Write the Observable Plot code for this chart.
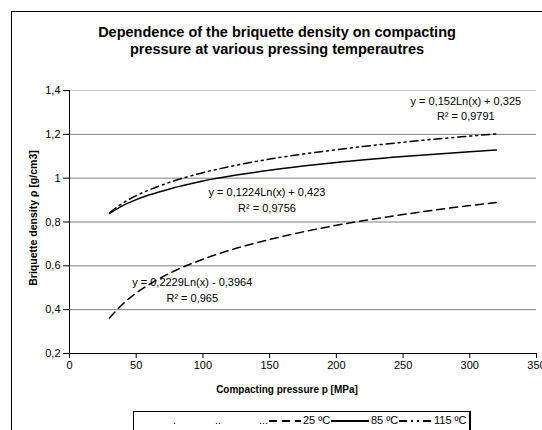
<!DOCTYPE html>
<html><head><meta charset="utf-8">
<script src="https://cdn.jsdelivr.net/npm/d3@7"></script>
<script src="https://cdn.jsdelivr.net/npm/@observablehq/plot@0.6"></script>
<style>
html,body{margin:0;padding:0;width:542px;height:430px;overflow:hidden;background:#fff;font-family:"Liberation Sans",Arial,sans-serif;color:#000}
#wrap{position:relative;width:542px;height:430px;overflow:hidden}
#frame{position:absolute;left:11px;top:11px;width:700px;height:700px;border:1px solid #000;box-sizing:border-box}
#chart{position:absolute;left:0;top:0}
.title{position:absolute;left:0;width:554px;text-align:center;font-weight:bold;font-size:14.5px;line-height:17px;top:24px}
.xlab{position:absolute;left:187px;width:200px;text-align:center;font-weight:bold;font-size:10px;top:384px}
.ylab{position:absolute;left:33px;top:218px;font-weight:bold;font-size:10.5px;white-space:nowrap;transform:translate(-50%,-50%) rotate(-90deg)}
#legend{position:absolute;left:133px;top:411px;width:338px;height:40px;border:1px solid #000;border-right-width:2px;box-sizing:border-box;font-size:11px}
#legend span,#legend svg{position:absolute}
</style></head>
<body><div id="wrap">
<div id="frame"></div>
<div id="chart"></div>
<div class="title">Dependence of the briquette density on compacting<br>pressure at various pressing temperautres</div>
<div class="xlab">Compacting pressure p [MPa]</div>
<div class="ylab">Briquette density ρ [g/cm3]</div>
<div id="legend"></div>
</div>
<script>
// pressures read along the x axis [MPa]
const pressures = [30, 40, 50, 60, 75, 100, 125, 150, 175, 200, 250, 300, 320];
// densities [g/cm3]
const dens25  = [0.362, 0.426, 0.476, 0.516, 0.566, 0.630, 0.680, 0.720, 0.755, 0.785, 0.834, 0.875, 0.889];
const dens85  = [0.839, 0.875, 0.902, 0.924, 0.951, 0.987, 1.014, 1.036, 1.055, 1.072, 1.099, 1.121, 1.129];
const dens115 = [0.842, 0.886, 0.920, 0.947, 0.981, 1.025, 1.059, 1.087, 1.110, 1.130, 1.164, 1.192, 1.202];
const seriesNames = ["25 ºC", "85 ºC", "115 ºC"];
const xTicks = [0, 50, 100, 150, 200, 250, 300, 350];
const yTicks = [0.2, 0.4, 0.6, 0.8, 1.0, 1.2, 1.4];
const eqTexts = ["y = 0,152Ln(x) + 0,325", "R² = 0,9791",
                 "y = 0,1224Ln(x) + 0,423", "R² = 0,9756",
                 "y = 0,2229Ln(x) - 0,3964", "R² = 0,965"];
const eqX = [297, 297, 148, 148, 92, 92];
const eqY = [1.350, 1.281, 0.934, 0.861, 0.523, 0.450];

const dashes = {"25 ºC": "8,5", "85 ºC": null, "115 ºC": "8,4,2,4,2,4"};
const allDens = [dens25, dens85, dens115];
const rows = seriesNames.flatMap((s, i) => pressures.map((p, j) => ({series: s, p, d: allDens[i][j]})));
const fmt = d => String(+d.toFixed(1)).replace(".", ",");
const ann = eqTexts.map((t, i) => ({t, x: eqX[i], y: eqY[i]}));

const lineMarks = seriesNames.map(s => Plot.line(rows.filter(r => r.series === s), {
  x: "p", y: "d", stroke: "black", strokeWidth: 1.5, curve: "monotone-x",
  strokeDasharray: dashes[s] || undefined
}));

const plot = Plot.plot({
  width: 542, height: 430,
  marginLeft: 69, marginRight: 6, marginTop: 90, marginBottom: 77,
  style: {fontFamily: "Liberation Sans, Arial, sans-serif", fontSize: "11px", background: "transparent", color: "black"},
  x: {domain: [0, 350], ticks: xTicks},
  y: {domain: [0.2, 1.4], ticks: yTicks},
  marks: [
    Plot.ruleY(yTicks.filter(d => d > 0.2 && d < 1.4), {y: d => d, stroke: "#808080"}),
    Plot.ruleY([1.4], {stroke: "#c8c8c8"}),
    ...lineMarks,
    Plot.ruleX([0], {stroke: "black"}),
    Plot.ruleY([0.2], {stroke: "black"}),
    Plot.axisX({ticks: xTicks, tickSize: 5, tickPadding: 3, label: null, tickFormat: d => String(d)}),
    Plot.axisY({ticks: yTicks, tickSize: 6, tickPadding: 3, label: null, tickFormat: fmt}),
    Plot.text(ann, {x: "x", y: "y", text: "t", fontSize: 11, fill: "black", textAnchor: "middle"})
  ]
});
document.getElementById("chart").appendChild(plot);

// legend
const leg = document.getElementById("legend");
const L = 133;
const dotItems = [[".", 172], ["..", 214], ["...", 258]];
dotItems.forEach(([t, x]) => {
  const s = document.createElement("span"); s.textContent = t;
  s.style.left = (x - L) + "px"; s.style.top = "2px"; leg.appendChild(s);
});
const swX = [[268, 300, 302], [330, 368, 370], [398, 430, 433]];
seriesNames.forEach((name, i) => {
  const [a, b, tx] = swX[i];
  const svg = document.createElementNS("http://www.w3.org/2000/svg", "svg");
  svg.setAttribute("width", b - a); svg.setAttribute("height", 10);
  svg.style.left = (a - L) + "px"; svg.style.top = "4px";
  const ln = document.createElementNS("http://www.w3.org/2000/svg", "line");
  ln.setAttribute("x1", 0); ln.setAttribute("x2", b - a); ln.setAttribute("y1", 5); ln.setAttribute("y2", 5);
  ln.setAttribute("stroke", "black"); ln.setAttribute("stroke-width", 2);
  if (dashes[name]) ln.setAttribute("stroke-dasharray", dashes[name]);
  svg.appendChild(ln); leg.appendChild(svg);
  const s = document.createElement("span"); s.textContent = name;
  s.style.left = (tx - L) + "px"; s.style.top = "2px"; leg.appendChild(s);
});
</script>
</body></html>
